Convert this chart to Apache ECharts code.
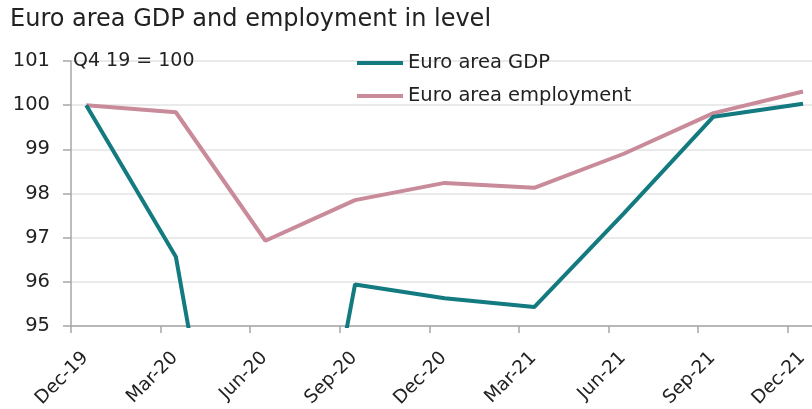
<!DOCTYPE html>
<html>
<head>
<meta charset="utf-8">
<script src="https://cdn.jsdelivr.net/npm/echarts@6/dist/echarts.min.js"></script>
<style>html,body{margin:0;padding:0;background:#fff}#c{width:812px;height:409px}</style>
</head>
<body>
<div id="c"></div>
<script>
const titleText = 'Euro area GDP and employment in level';
const noteText = 'Q4 19 = 100';
const categories = ['Dec-19','Mar-20','Jun-20','Sep-20','Dec-20','Mar-21','Jun-21','Sep-21','Dec-21'];
const gdpName = 'Euro area GDP';
const gdpValues = [100, 96.57, 85.2, 95.94, 95.63, 95.43, 97.55, 99.74, 100.03];
const empName = 'Euro area employment';
const empValues = [100, 99.84, 96.93, 97.85, 98.24, 98.13, 98.9, 99.82, 100.31];
const yTicks = [95, 96, 97, 98, 99, 100, 101];

const FONT = 'DejaVu Sans';
const POINT_OFFSET = 0.17;   // points sit mid-month after each tick
const LABEL_OFFSET = 0.16;
const tickPos = categories.map((_, i) => i);
const labelPos = categories.map((_, i) => i + LABEL_OFFSET);
const toXY = vals => vals.map((v, i) => [i + POINT_OFFSET, v]);

const chart = echarts.init(document.getElementById('c'), null, {renderer: 'canvas'});
chart.setOption({
  animation: false,
  backgroundColor: '#fff',
  title: [
    {text: titleText, left: 5, top: 3, textStyle: {fontFamily: FONT, fontSize: 24, fontWeight: 'normal', color: '#222'}},
    {text: noteText, left: 68, top: 47, textStyle: {fontFamily: FONT, fontSize: 19, fontWeight: 'normal', color: '#222'}}
  ],
  legend: {
    orient: 'vertical', left: 352, top: 47,
    icon: 'rect', itemWidth: 46, itemHeight: 4, itemGap: 11,
    textStyle: {fontFamily: FONT, fontSize: 19.5, color: '#222', lineHeight: 22},
    data: [gdpName, empName]
  },
  grid: {left: 71, right: 0, top: 61, bottom: 83, containLabel: false, outerBoundsMode: 'none'},
  xAxis: {
    type: 'value', min: 0, max: 8.27,
    axisLine: {show: true, lineStyle: {color: '#a6a6a6', width: 1.5}},
    axisTick: {show: true, length: 7, customValues: tickPos, lineStyle: {color: '#a6a6a6', width: 1.5}},
    splitLine: {show: false},
    axisLabel: {
      customValues: labelPos, rotate: 45, margin: 29,
      fontFamily: FONT, fontSize: 18.5, color: '#222',
      formatter: v => categories[Math.round(v - LABEL_OFFSET)] || ''
    }
  },
  yAxis: {
    type: 'value', min: yTicks[0], max: yTicks[yTicks.length - 1], interval: 1,
    axisLine: {show: true, lineStyle: {color: '#a6a6a6', width: 1.5}},
    axisTick: {show: true, length: 8, lineStyle: {color: '#a6a6a6', width: 1.5}},
    splitLine: {show: true, lineStyle: {color: '#e3e3e3', width: 1.5}},
    axisLabel: {margin: 21, fontFamily: FONT, fontSize: 19.5, color: '#222'}
  },
  series: [
    {name: empName, type: 'line', data: toXY(empValues), symbol: 'none', clip: true,
     lineStyle: {color: '#c98a9a', width: 4}, itemStyle: {color: '#c98a9a'}},
    {name: gdpName, type: 'line', data: toXY(gdpValues), symbol: 'none', clip: true,
     lineStyle: {color: '#137a80', width: 4}, itemStyle: {color: '#137a80'}}
  ]
});
</script>
</body>
</html>
